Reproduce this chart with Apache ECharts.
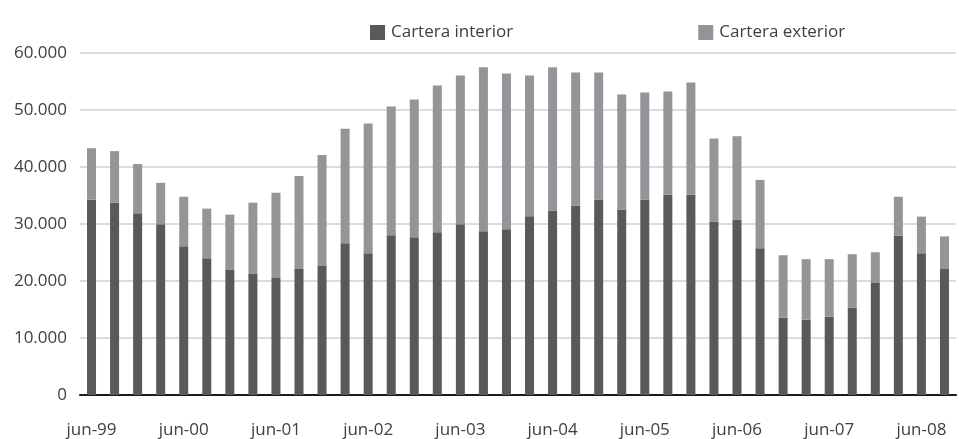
<!DOCTYPE html>
<html>
<head>
<meta charset="utf-8">
<script src="https://cdn.jsdelivr.net/npm/echarts@6/dist/echarts.min.js"></script>
<style>html,body{margin:0;padding:0;background:#fff}#c{width:959px;height:439px}</style>
</head>
<body>
<div id="c"></div>
<script>
var categories = ['jun-99','sep-99','dic-99','mar-00','jun-00','sep-00','dic-00','mar-01','jun-01','sep-01','dic-01','mar-02','jun-02','sep-02','dic-02','mar-03','jun-03','sep-03','dic-03','mar-04','jun-04','sep-04','dic-04','mar-05','jun-05','sep-05','dic-05','mar-06','jun-06','sep-06','dic-06','mar-07','jun-07','sep-07','dic-07','mar-08','jun-08','sep-08'];
var carteraInterior = [34260,33740,31880,29970,26090,24000,21910,21220,20520,22090,22610,26630,24880,28020,27670,28550,29940,28720,29070,31340,32380,33260,34300,32560,34260,35130,35130,30430,30780,25740,13570,13220,13740,15300,19650,28000,24870,22090];
var carteraExterior = [9040,9040,8640,7250,8690,8700,9740,12520,14960,16340,19480,20100,22730,22580,24170,25750,26130,28760,27350,24730,25100,23340,22300,20160,18810,18120,19710,14570,14620,12000,10950,10610,10090,9400,5390,6780,6430,5740];
var yTicks = {min: 0, max: 60000, interval: 10000};

var FONT = 'Open Sans';
var chart = echarts.init(document.getElementById('c'));
chart.setOption({
  animation: false,
  textStyle: {fontFamily: FONT},
  legend: {
    left: 365, top: 19,
    itemWidth: 15, itemHeight: 15, itemGap: 185,
    icon: 'rect',
    textStyle: {fontSize: 17, color: '#404040', fontFamily: FONT, padding: [0,0,0,1]},
    data: ['Cartera interior', 'Cartera exterior']
  },
  grid: {left: 80, right: 3, top: 53, bottom: 44, containLabel: false},
  xAxis: {
    type: 'category',
    data: categories,
    boundaryGap: true,
    axisLine: {lineStyle: {color: '#1a1a1a', width: 2}},
    axisTick: {show: false},
    axisLabel: {interval: 3, margin: 27, fontSize: 17, color: '#404040', fontFamily: FONT}
  },
  yAxis: {
    type: 'value',
    min: yTicks.min, max: yTicks.max, interval: yTicks.interval,
    axisLine: {show: false},
    axisTick: {show: false},
    splitLine: {lineStyle: {color: '#d0d0d0', width: 1.5}},
    axisLabel: {
      margin: 13, fontSize: 17, color: '#404040', fontFamily: FONT,
      formatter: function (v) { return String(v).replace(/\B(?=(\d{3})+(?!\d))/g, '.'); }
    }
  },
  series: [
    {name: 'Cartera interior', type: 'bar', stack: 'total', barWidth: 9, data: carteraInterior, itemStyle: {color: '#58595b'}},
    {name: 'Cartera exterior', type: 'bar', stack: 'total', barWidth: 9, data: carteraExterior, itemStyle: {color: '#939598'}}
  ]
});
</script>
</body>
</html>
